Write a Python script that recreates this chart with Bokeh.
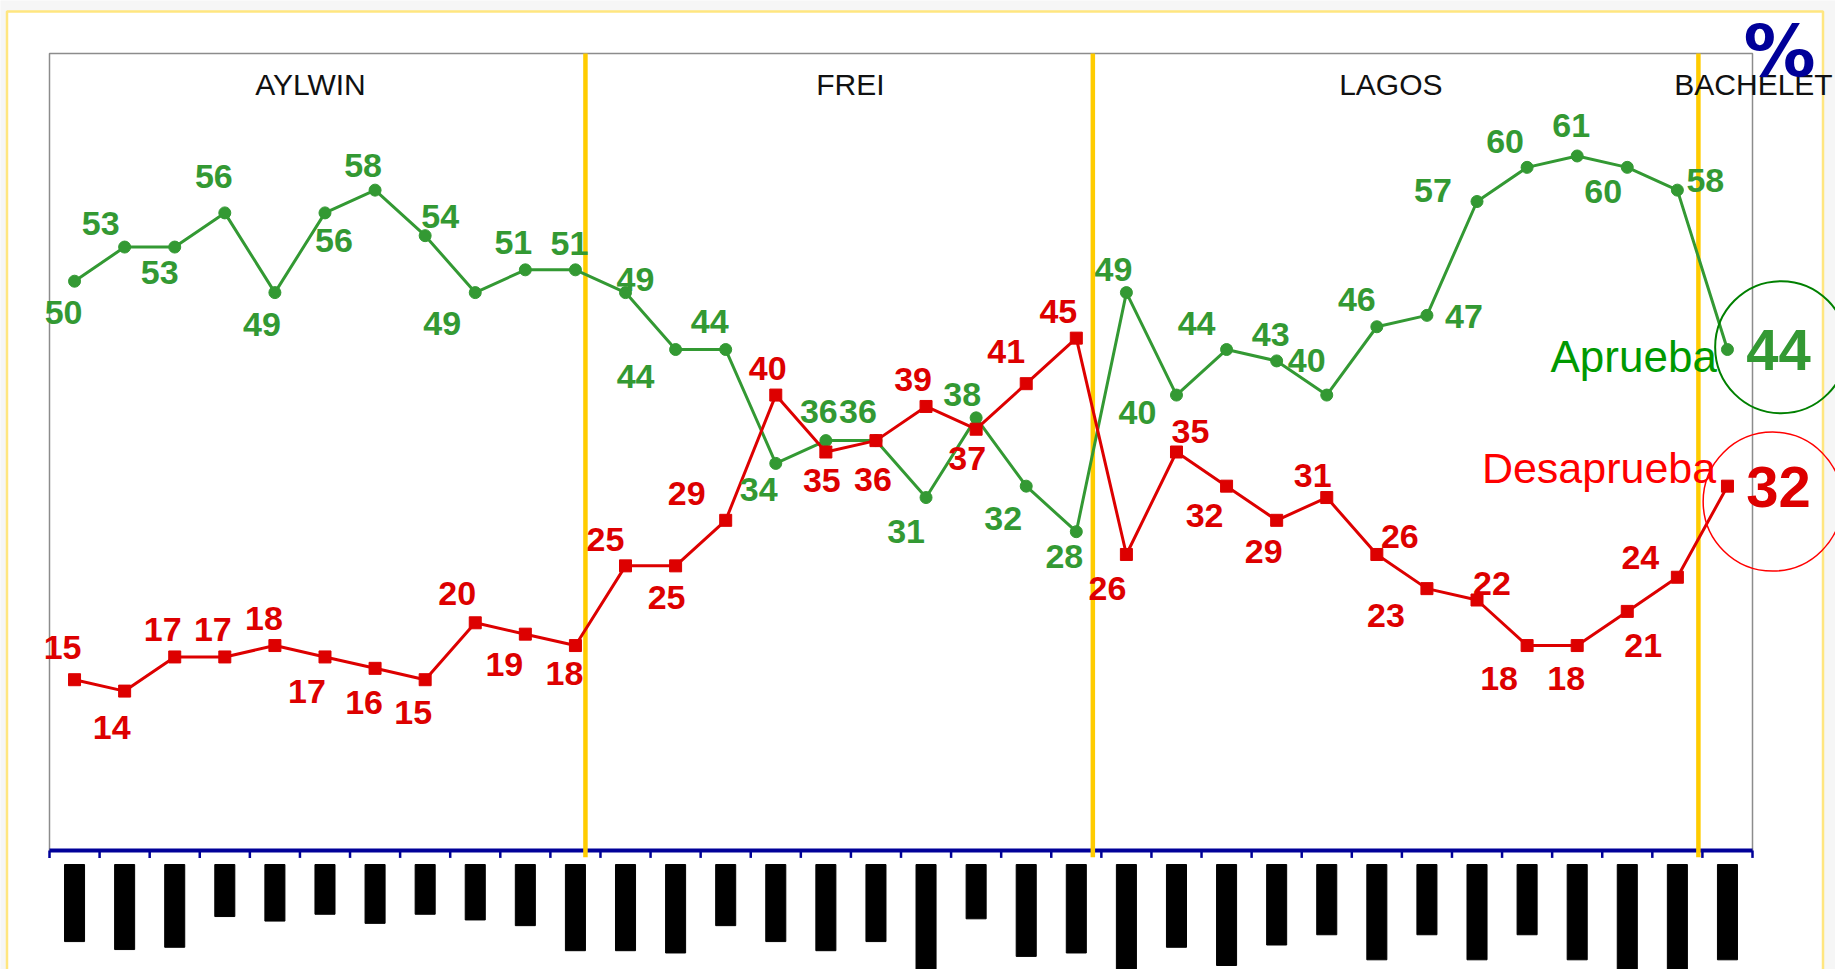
from bokeh.plotting import figure
from bokeh.models import Range1d, BoxAnnotation, ColumnDataSource
from bokeh.embed import file_html
from bokeh.resources import INLINE
from bokeh.core.properties import value

# ---------------- data ----------------
idx = list(range(1, 35))
aprueba = [50, 53, 53, 56, 49, 56, 58, 54, 49, 51, 51, 49, 44, 44, 34, 36, 36, 31, 38, 32, 28,
           49, 40, 44, 43, 40, 46, 47, 57, 60, 61, 60, 58, 44]
desaprueba = [15, 14, 17, 17, 18, 17, 16, 15, 20, 19, 18, 25, 25, 29, 40, 35, 36, 39, 37, 41, 45,
              26, 35, 32, 29, 31, 26, 23, 22, 18, 18, 21, 24, 32]
terms = ["AYLWIN", "FREI", "LAGOS", "BACHELET"]
term_breaks = [11.2, 21.33, 33.42]
# garbled (rotated) tick labels drawn as black blocks: their lower end in axis units
label_depth = [-8.0, -8.7, -8.5, -5.8, -6.2, -5.6, -6.4, -5.6, -6.1, -6.6, -8.8, -8.8, -9.0,
               -6.6, -8.0, -8.8, -8.0, -11.0, -6.0, -9.3, -9.0, -11.0, -8.5, -10.1, -8.3, -7.4,
               -9.6, -7.4, -9.6, -7.4, -9.6, -11.0, -11.0, -9.6]

# ---------------- layout / style ----------------
term_label_x = [5.71, 16.49, 27.28, 34.52]
g_dx = [-11, -24, -15, -11, -13, 9, -12, 15, -33, -12, -6, 10, -40, -16, -17, -7, -18, -20, -14,
        -23, -12, -13, -39, -30, -6, -20, -20, 37, -44, -22, -6, -24, 28]
g_dy = [30, -25, 24, -37, 31, 27, -26, -20, 30, -28, -27, -14, 26, -29, 25, -30, -30, 33, -24,
        31, 24, -24, 16, -27, -27, -36, -28, 0, -12, -27, -31, 23, -11]
r_dx = [-12, -13, -12, -12, -11, -18, -11, -12, -18, -21, -11, -20, -9, -39, -8, -4, -3, -13, -9,
        -20, -18, -19, 14, -22, -13, -14, 23, -41, 15, -28, -11, 16, -37]
r_dy = [-33, 35, -28, -28, -28, 34, 33, 32, -30, 29, 27, -27, 31, -28, -28, 27, 38, -28, 28,
        -33, -28, 33, -22, 28, 30, -23, -19, 26, -18, 32, 32, 33, -21]

GREEN = "#339933"
RED = "#dd0000"
NAVY = "#000099"
GOLD = "#ffcc00"
FONT = value("Liberation Sans")

W, H = 1835, 969
OFF = 0
FX0, FX1 = 49, 1752       # page px of chart frame left/right
FY_TOP, FY0 = 53, 850     # page px of value 70 and value 0
N = len(idx)
YMAX = 70
sx = (FX1 - FX0) / N
sy = (FY0 - FY_TOP) / YMAX
x_start = 0.5 + (OFF - FX0) / sx
x_end = 0.5 + (OFF + W - FX0) / sx
y_end = (FY0 - OFF) / sy
y_start = (FY0 - OFF - H) / sy

p = figure(width=W, height=H, x_range=Range1d(x_start, x_end), y_range=Range1d(y_start, y_end),
           output_backend="svg", toolbar_location=None, x_axis_location=None,
           y_axis_location=None, min_border=0, background_fill_color="#f6f6f6",
           border_fill_color="#f6f6f6", outline_line_color=None)
p.grid.visible = False

# outer pale-yellow box
p.add_layout(BoxAnnotation(left=0.5 + (6.5 - FX0) / sx, right=0.5 + (1822.5 - FX0) / sx,
                           bottom=y_start - 2, top=(FY0 - 11) / sy,
                           fill_color="white", fill_alpha=1, line_color="#ffe680",
                           line_alpha=1, line_width=2.5, level="underlay"))
# chart frame
p.add_layout(BoxAnnotation(left=0.5, right=N + 0.5, bottom=0, top=YMAX,
                           fill_alpha=0, line_color="#8c8c8c", line_alpha=1, line_width=1.5,
                           level="underlay"))

# x axis line and ticks
bounds = [k + 0.5 for k in range(N + 1)]
p.segment(x0=[0.5], y0=[0], x1=[N + 0.5], y1=[0], line_color=NAVY, line_width=4)
p.segment(x0=bounds, y0=[0] * len(bounds), x1=bounds, y1=[-0.65] * len(bounds),
          line_color=NAVY, line_width=2.5)

# presidential term separators
p.segment(x0=term_breaks, y0=[YMAX] * 3, x1=term_breaks, y1=[-0.6] * 3,
          line_color=GOLD, line_width=4.5)

# pseudo tick labels (black blocks)
p.vbar(x=idx, top=-1.23, bottom=label_depth, width=0.4, color="black")

# series
p.line(idx, aprueba, line_color=GREEN, line_width=3)
p.scatter(idx, aprueba, marker="circle", size=12, color=GREEN)
p.line(idx, desaprueba, line_color=RED, line_width=3)
p.scatter(idx, desaprueba, marker="square", size=12, color=RED)

# value labels
CAP = 1
src_g = ColumnDataSource(dict(x=idx[:-1], y=aprueba[:-1], t=[str(v) for v in aprueba[:-1]],
                              dx=g_dx, dy=[d + CAP for d in g_dy]))
src_r = ColumnDataSource(dict(x=idx[:-1], y=desaprueba[:-1],
                              t=[str(v) for v in desaprueba[:-1]],
                              dx=r_dx, dy=[d + CAP for d in r_dy]))
for src, col in ((src_g, GREEN), (src_r, RED)):
    p.text(x="x", y="y", text="t", x_offset="dx", y_offset="dy", source=src,
           text_font=FONT, text_font_style="bold", text_font_size="34px",
           text_color=col, text_align="center", text_baseline="alphabetic")

# latest values: big labels, circles, series names
p.text(x=[idx[-1]], y=[aprueba[-1]], text=[str(aprueba[-1])], x_offset=51, y_offset=0,
       text_font=FONT, text_font_style="bold", text_font_size="58px", text_color=GREEN,
       text_align="center", text_baseline="alphabetic")
p.text(x=[idx[-1]], y=[desaprueba[-1]], text=[str(desaprueba[-1])], x_offset=51, y_offset=1,
       text_font=FONT, text_font_style="bold", text_font_size="58px", text_color=RED,
       text_align="center", text_baseline="alphabetic")
p.scatter(x=[idx[-1] + 53.7 / sx], y=[aprueba[-1] + 2.3 / sy], marker="circle", size=132,
          fill_color=None, line_color="#008000", line_width=2)
p.scatter(x=[idx[-1] + 45.2 / sx], y=[desaprueba[-1] - 15.4 / sy], marker="circle", size=139,
          fill_color=None, line_color="#ff0000", line_width=1.5)
p.text(x=[idx[-1]], y=[aprueba[-1]], text=["Aprueba"], x_offset=-10.6, y_offset=6.5,
       text_font=FONT, text_font_size="44px", text_color="#009900",
       text_align="right", text_baseline="alphabetic")
p.text(x=[idx[-1]], y=[desaprueba[-1]], text=["Desaprueba"], x_offset=-11.3, y_offset=-18,
       text_font=FONT, text_font_size="43px", text_color="#ff0000",
       text_align="right", text_baseline="alphabetic")

# term names
p.text(x=term_label_x, y=[(FY0 - 83.5) / sy] * 4, text=terms, text_font=FONT,
       text_font_size="30px", text_color="#111111", text_align="center",
       text_baseline="alphabetic")

# percent sign
p.text(x=[0.5 + (1779 - FX0) / sx], y=[(FY0 - 50) / sy], text=["%"],
       text_font=value("DejaVu Sans"), text_font_style="bold", text_font_size="72px",
       text_color=NAVY, text_align="center", text_baseline="alphabetic")

open("out.html", "w").write(file_html(p, INLINE))
